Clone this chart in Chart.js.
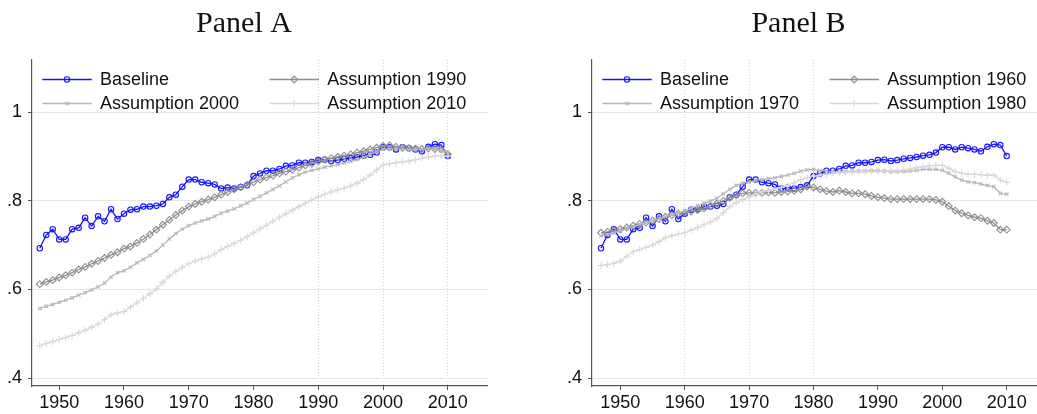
<!DOCTYPE html>
<html>
<head>
<meta charset="utf-8">
<script src="https://cdn.jsdelivr.net/npm/chart.js"></script>
<style>
  html, body { margin: 0; padding: 0; background: #fff; overflow: hidden; }
  body { width: 1037px; height: 414px; position: relative; }
  canvas { position: absolute; top: 0; }
  #panelA { left: -10px; }
  #panelB { left: 557px; }
</style>
</head>
<body>
<canvas id="panelA" width="498" height="414"></canvas>
<canvas id="panelB" width="480" height="414"></canvas>
<script>
// years on the x axis
const years = [1947, 1948, 1949, 1950, 1951, 1952, 1953, 1954, 1955, 1956,
  1957, 1958, 1959, 1960, 1961, 1962, 1963, 1964, 1965, 1966,
  1967, 1968, 1969, 1970, 1971, 1972, 1973, 1974, 1975, 1976,
  1977, 1978, 1979, 1980, 1981, 1982, 1983, 1984, 1985, 1986,
  1987, 1988, 1989, 1990, 1991, 1992, 1993, 1994, 1995, 1996,
  1997, 1998, 1999, 2000, 2001, 2002, 2003, 2004, 2005, 2006,
  2007, 2008, 2009, 2010];

const xTicks = [1950, 1960, 1970, 1980, 1990, 2000, 2010];
const yTicks = [0.4, 0.6, 0.8, 1];
const yTickLabels = ['.4', '.6', '.8', '1'];

// baseline (same in both panels)
const baseline = [.693, .723, .736, .713, .713, .736, .739, .762, .743, .765,
  .754, .781, .759, .771, .780, .781, .787, .787, .789, .793,
  .808, .814, .832, .848, .848, .842, .840, .837, .828, .830,
  .828, .831, .835, .856, .862, .868, .868, .872, .879, .880,
  .886, .886, .888, .892, .893, .890, .892, .895, .897, .899,
  .902, .904, .909, .921, .921, .916, .921, .919, .916, .912,
  .922, .928, .926, .901];

// Panel A
const assume1990 = [.612, .617, .621, .627, .632, .638, .645, .651, .658, .664,
  .671, .678, .684, .692, .697, .705, .714, .724, .735, .746,
  .757, .768, .778, .787, .793, .798, .803, .808, .814, .820,
  .826, .831, .836, .842, .848, .853, .857, .862, .866, .870,
  .875, .880, .884, .889, .893, .896, .899, .902, .905, .909,
  .912, .916, .920, .924, .925, .922, .920, .919, .918, .917,
  .918, .917, .915, .905];
const assume2000 = [.557, .562, .566, .571, .576, .581, .587, .593, .599, .606,
  .614, .628, .638, .642, .650, .660, .668, .677, .687, .700,
  .714, .726, .736, .744, .750, .755, .759, .765, .772, .777,
  .782, .789, .795, .803, .810, .818, .826, .834, .843, .852,
  .859, .865, .869, .872, .876, .879, .882, .885, .889, .893,
  .898, .905, .911, .917, .918, .917, .916, .915, .916, .917,
  .918, .916, .913, .910];
const assume2010 = [.473, .478, .482, .487, .491, .496, .502, .508, .515, .522,
  .532, .543, .547, .550, .560, .570, .580, .590, .601, .616,
  .630, .641, .650, .658, .664, .669, .673, .680, .690, .697,
  .704, .711, .719, .728, .737, .745, .754, .763, .771, .779,
  .787, .795, .802, .809, .815, .820, .825, .829, .834, .840,
  .848, .858, .870, .881, .884, .886, .888, .890, .893, .896,
  .899, .901, .902, .901];

// Panel B
const assume1960 = [.728, .730, .733, .736, .740, .744, .748, .751, .755, .759,
  .764, .768, .771, .773, .776, .779, .783, .788, .794, .800,
  .807, .813, .817, .818, .818, .818, .819, .818, .820, .821,
  .823, .826, .832, .830, .826, .822, .820, .823, .820, .817,
  .817, .815, .811, .808, .806, .804, .804, .804, .804, .804,
  .804, .804, .802, .798, .788, .778, .772, .767, .763, .761,
  .755, .750, .735, .735];
const assume1970 = [.721, .724, .728, .732, .737, .742, .747, .751, .755, .760,
  .765, .769, .773, .778, .783, .789, .795, .800, .806, .816,
  .826, .835, .840, .843, .846, .848, .850, .852, .855, .858,
  .862, .867, .870, .871, .869, .867, .866, .866, .866, .867,
  .867, .867, .868, .868, .867, .866, .866, .866, .867, .869,
  .871, .871, .871, .869, .862, .854, .847, .843, .841, .838,
  .835, .832, .817, .815];
const assume1980 = [.654, .656, .659, .664, .675, .685, .690, .695, .700, .708,
  .717, .721, .725, .728, .734, .740, .746, .752, .760, .773,
  .787, .796, .803, .809, .815, .820, .824, .827, .830, .835,
  .841, .848, .852, .856, .858, .860, .862, .864, .865, .865,
  .866, .866, .866, .867, .867, .868, .868, .869, .872, .875,
  .877, .879, .880, .880, .874, .866, .862, .860, .860, .859,
  .858, .858, .847, .842];

const pts = (vals) => vals.map((v, i) => ({ x: years[i], y: v }));

function series(label, vals, kind) {
  const styles = {
    base:  { color: '#1414ff', pointStyle: 'circle',   r: 2.7, w: 1.3, order: 4 },
    dark:  { color: '#8e8e8e', pointStyle: 'rectRot',  r: 3.4, w: 1.3, order: 3 },
    mid:   { color: '#b8b8b8', pointStyle: 'crossRot', r: 2.5, w: 1.3, order: 2 },
    light: { color: '#d8d8d8', pointStyle: 'cross',    r: 3.4, w: 1.3, order: 1 }
  };
  const s = styles[kind];
  return {
    label: label,
    data: pts(vals),
    borderColor: s.color,
    borderWidth: s.w,
    pointStyle: s.pointStyle,
    pointRadius: s.r,
    pointBorderColor: s.color,
    pointBorderWidth: 1.1,
    pointBackgroundColor: 'rgba(0,0,0,0)',
    tension: 0,
    order: s.order
  };
}

// legend drawn inside the plot, two columns like the original
const insideLegend = {
  id: 'insideLegend',
  afterDatasetsDraw(chart) {
    const { ctx, chartArea } = chart;
    const spots = [[10.3, 19.5], [237.5, 19.5], [10.3, 43.5], [237.5, 43.5]];
    chart.data.datasets.forEach((ds, i) => {
      const x0 = chartArea.left + spots[i][0];
      const y = chartArea.top + spots[i][1];
      ctx.save();
      ctx.strokeStyle = ds.borderColor;
      ctx.lineWidth = ds.borderWidth;
      ctx.beginPath();
      ctx.moveTo(x0, y);
      ctx.lineTo(x0 + 49.5, y);
      ctx.stroke();
      ctx.fillStyle = 'rgba(0,0,0,0)';
      ctx.strokeStyle = ds.pointBorderColor;
      ctx.lineWidth = ds.pointBorderWidth;
      Chart.helpers.drawPoint(ctx, {
        pointStyle: ds.pointStyle, radius: ds.pointRadius,
        borderWidth: ds.pointBorderWidth, rotation: 0
      }, x0 + 24.7, y);
      ctx.fillStyle = '#111';
      ctx.font = '18px "Liberation Sans", Arial, sans-serif';
      ctx.textBaseline = 'middle';
      ctx.textAlign = 'left';
      ctx.fillText(ds.label, x0 + 57.7, y + 1);
      ctx.restore();
    });
  }
};

function makeChart(id, title, datasets, xMin, xMax, padLeft, dotted) {
  return new Chart(document.getElementById(id), {
    type: 'line',
    data: { datasets: datasets },
    options: {
      responsive: false,
      animation: false,
      devicePixelRatio: 1,
      layout: { autoPadding: false, padding: { left: padLeft, right: 0, top: 0, bottom: 0 } },
      plugins: {
        legend: { display: false },
        tooltip: { enabled: false },
        title: {
          display: true,
          text: title,
          color: '#111',
          font: { family: '"Liberation Serif", "DejaVu Serif", serif', size: 30, weight: 'normal' },
          padding: { top: 6, bottom: 18 }
        }
      },
      scales: {
        x: {
          type: 'linear',
          min: xMin,
          max: xMax,
          afterBuildTicks: (s) => { s.ticks = xTicks.map(v => ({ value: v })); },
          afterFit: (s) => { s.height = 28; s.paddingLeft = 0; s.paddingRight = 0; },
          ticks: {
            color: '#111',
            padding: 2,
            maxRotation: 0,
            autoSkip: false,
            font: { family: '"Liberation Sans", Arial, sans-serif', size: 18 },
            callback: (v) => String(v)
          },
          grid: {
            color: (c) => (c.tick && dotted.includes(c.tick.value)) ? '#cfcfcf' : 'rgba(0,0,0,0)',
            tickColor: '#555',
            tickLength: 4,
            lineWidth: 1
          },
          border: { color: '#555', width: 1.2, dash: [1, 2] }
        },
        y: {
          min: 0.382,
          max: 1.118,
          afterBuildTicks: (s) => { s.ticks = yTicks.map(v => ({ value: v })); },
          afterFit: (s) => { s.width = 32; s.paddingTop = 0; s.paddingBottom = 0; },
          ticks: {
            color: '#111',
            padding: 6,
            font: { family: '"Liberation Sans", Arial, sans-serif', size: 18 },
            callback: (v, i) => yTickLabels[i]
          },
          grid: {
            color: '#e6e6e6',
            tickColor: '#555',
            tickLength: 4,
            lineWidth: 1
          },
          border: { color: '#555', width: 1.2 }
        }
      }
    },
    plugins: [insideLegend]
  });
}

makeChart('panelA', 'Panel A', [
  series('Baseline', baseline, 'base'),
  series('Assumption 1990', assume1990, 'dark'),
  series('Assumption 2000', assume2000, 'mid'),
  series('Assumption 2010', assume2010, 'light')
], 1945.8, 2016.2, 10, [1990, 2000, 2010]);

makeChart('panelB', 'Panel B', [
  series('Baseline', baseline, 'base'),
  series('Assumption 1960', assume1960, 'dark'),
  series('Assumption 1970', assume1970, 'mid'),
  series('Assumption 1980', assume1980, 'light')
], 1945.6, 2014.7, 3, [1960, 1970, 1980]);
</script>
</body>
</html>
